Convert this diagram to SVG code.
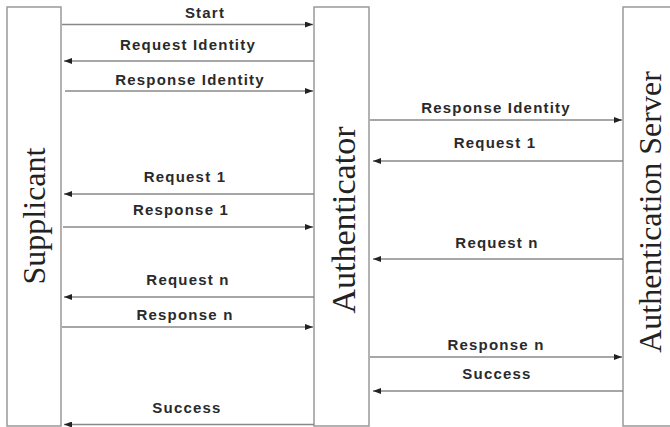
<svg xmlns="http://www.w3.org/2000/svg" width="670" height="427" viewBox="0 0 670 427">
<defs>
<marker id="ah" viewBox="0 0 8 6" refX="8" refY="3" markerWidth="8" markerHeight="6" markerUnits="userSpaceOnUse" orient="auto">
<path d="M0,0 L8,3 L0,6 Z" fill="#222"/>
</marker>
<style>
.box{fill:#fff;stroke:#999;stroke-width:1.5}
.ent{font-family:"Liberation Serif","Times New Roman",serif;fill:#222;text-anchor:middle}
.lbl{font-family:"Liberation Sans",Arial,sans-serif;font-weight:bold;font-size:15px;letter-spacing:1.2px;fill:#2a2a2a;text-anchor:middle}
.ar{stroke:#888;stroke-width:1.5;fill:none;marker-end:url(#ah)}
</style>
</defs>
<rect width="670" height="427" fill="#fff"/>
<g id="supplicant">
<rect class="box" x="7" y="7" width="54" height="419"/>
<text class="ent" font-size="32" transform="translate(45,216) rotate(-90)">Supplicant</text>
</g>
<g id="authenticator">
<rect class="box" x="314" y="7" width="55" height="419"/>
<text class="ent" font-size="34" transform="translate(355,220) rotate(-90)">Authenticator</text>
</g>
<g id="server">
<rect class="box" x="623" y="7" width="52" height="419"/>
<text class="ent" font-size="32" transform="translate(661,212) rotate(-90)">Authentication Server</text>
</g>
<g id="connectors">
<line class="ar" x1="62" y1="24.5" x2="313" y2="24.5"/>
<line class="ar" x1="314" y1="61" x2="64" y2="61"/>
<line class="ar" x1="65" y1="91" x2="313" y2="91"/>
<line class="ar" x1="370" y1="120" x2="622" y2="120"/>
<line class="ar" x1="623" y1="161" x2="373" y2="161"/>
<line class="ar" x1="314" y1="194" x2="64" y2="194"/>
<line class="ar" x1="63" y1="227" x2="313" y2="227"/>
<line class="ar" x1="623" y1="259" x2="373" y2="259"/>
<line class="ar" x1="314" y1="297" x2="64" y2="297"/>
<line class="ar" x1="62" y1="327" x2="313" y2="327"/>
<line class="ar" x1="370" y1="357" x2="622" y2="357"/>
<line class="ar" x1="623" y1="391" x2="373" y2="391"/>
<line class="ar" x1="314" y1="424.5" x2="64" y2="424.5"/>
</g>
<g id="labels">
<text class="lbl" x="205" y="18">Start</text>
<text class="lbl" x="188" y="50">Request Identity</text>
<text class="lbl" x="190" y="85">Response Identity</text>
<text class="lbl" x="496" y="113">Response Identity</text>
<text class="lbl" x="495" y="148">Request 1</text>
<text class="lbl" x="185" y="182">Request 1</text>
<text class="lbl" x="181" y="215">Response 1</text>
<text class="lbl" x="497" y="248">Request n</text>
<text class="lbl" x="188" y="285">Request n</text>
<text class="lbl" x="185" y="320">Response n</text>
<text class="lbl" x="496" y="350">Response n</text>
<text class="lbl" x="497" y="379">Success</text>
<text class="lbl" x="187" y="413">Success</text>
</g>
</svg>
